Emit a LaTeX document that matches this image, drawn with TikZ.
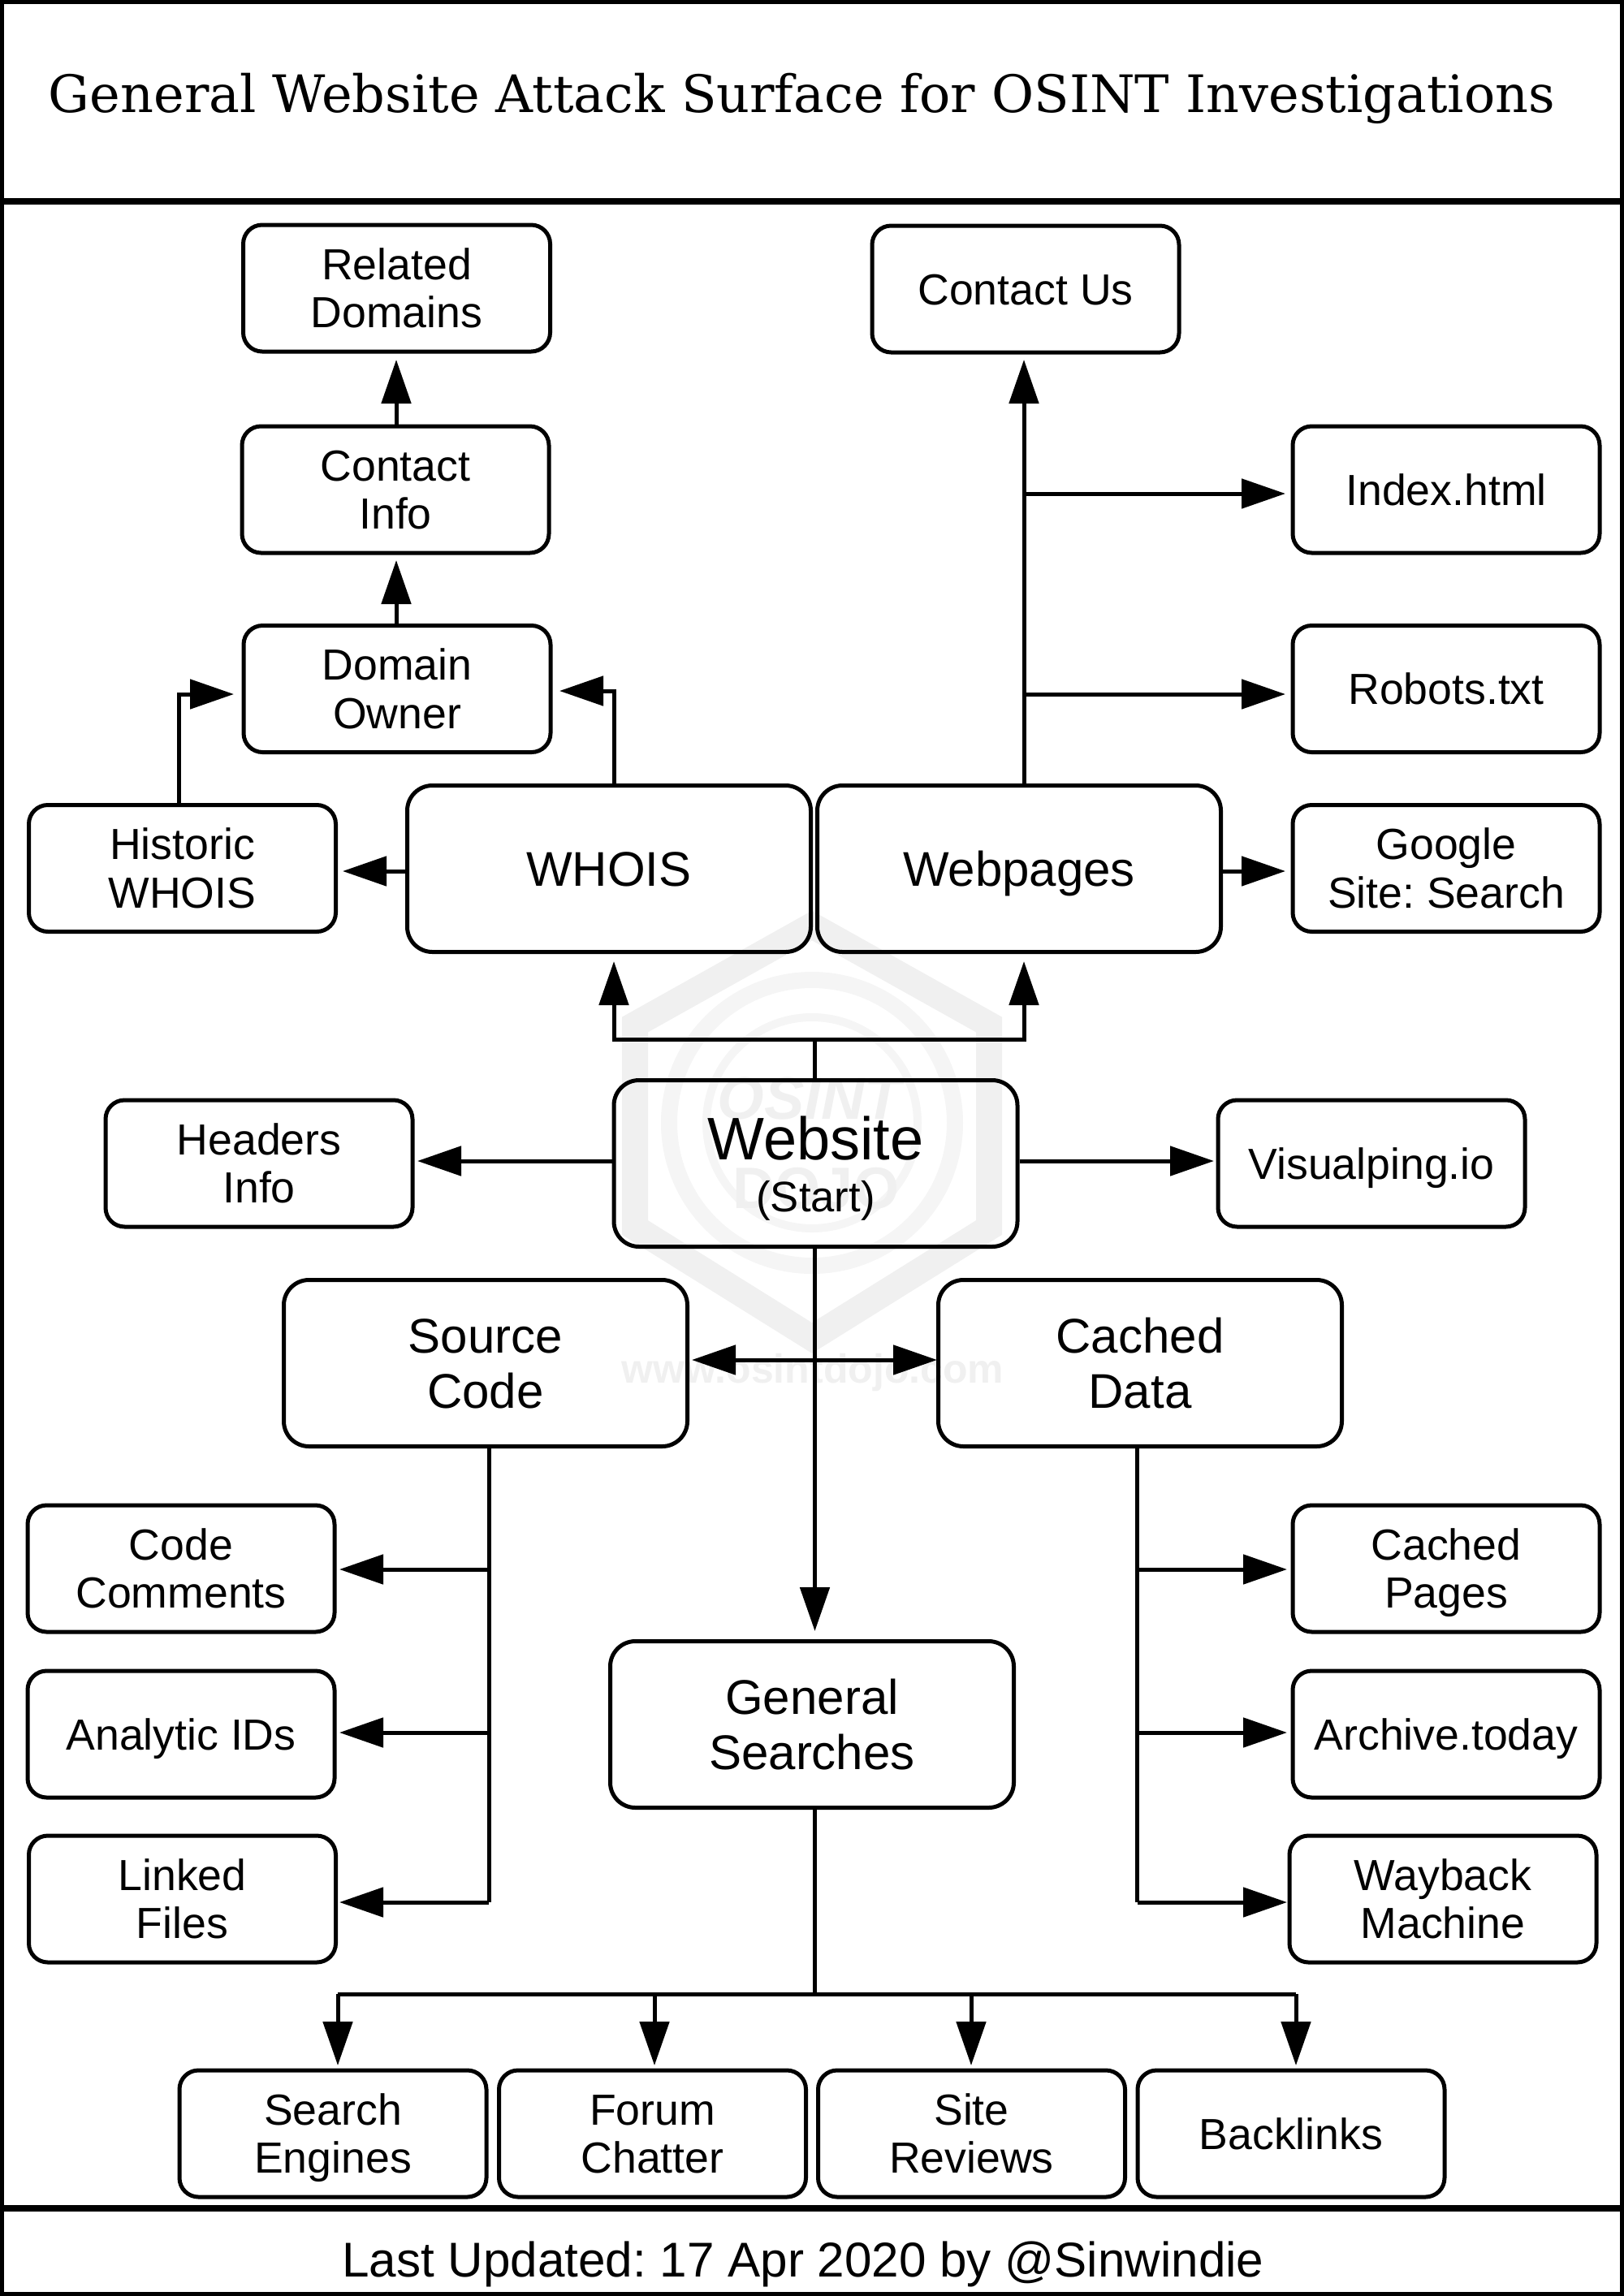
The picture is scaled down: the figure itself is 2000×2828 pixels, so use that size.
\documentclass[tikz,border=0pt]{standalone}
\usepackage{fontspec}
\setmainfont{Liberation Sans}
\newfontfamily\titlefont{DejaVu Serif}
\usetikzlibrary{arrows.meta,calc}
\frenchspacing
\definecolor{wm}{HTML}{F0F0F0}
\definecolor{wmlight}{HTML}{F5F5F5}
\newcommand{\boxstrut}{\rule[-0.02em]{0pt}{0.75em}}
\newcommand{\boxone}[1]{\boxstrut\smash{#1}}
\newcommand{\boxtwo}[2]{\boxstrut\smash{#1}\\\smash{#2}\boxstrut}
\tikzset{
  x=0.5pt,y=-0.5pt,
  box/.style={draw=black,line width=2.5pt,rounded corners=11.7pt,minimum width=189pt,minimum height=78pt,inner sep=0pt,align=center,font=\fontsize{26.8}{29.75}\selectfont},
  bigbox/.style={draw=black,line width=2.5pt,rounded corners=15.5pt,minimum width=248.5pt,minimum height=102.5pt,inner sep=0pt,align=center,font=\fontsize{30}{33.8}\selectfont},
  conn/.style={draw=black,line width=2.5pt},
  arr/.style={conn,-{Triangle[length=27pt,width=18pt]}},
  dbl/.style={conn,{Triangle[length=27pt,width=18pt]}-{Triangle[length=27pt,width=18pt]}},
  frameline/.style={draw=black,line width=4pt},
  wmtext/.style={text=wm,inner sep=0pt},
}
\begin{document}
\begin{tikzpicture}
\useasboundingbox (0,0) rectangle (2000,2828);
% watermark
\draw[draw=wm,line width=16pt,line join=miter] (1000,1140) -- (1218,1262) -- (1218,1512) -- (1000,1648) -- (782,1512) -- (782,1262) -- cycle;
\draw[draw=wmlight,line width=10pt] (1000,1383) circle[radius=176];
\draw[draw=wmlight,line width=5pt] (1000,1383) circle[radius=130];
\node[wmtext,font=\fontsize{37}{37}\selectfont\bfseries\itshape] (wmosint) at (997,1353) {OSINT};
\node[wmtext,font=\fontsize{36}{36}\selectfont\bfseries] (wmdojo) at (1005,1464) {DOJO};
\node[wmtext,font=\fontsize{25}{25}\selectfont\bfseries] (wmurl) at (1001,1691) {www.osintdojo.com};
% frames
\draw[frameline] (1,1) rectangle (1999,2827);
\draw[frameline] (0,248) -- (2000,248);
\draw[frameline] (0,2719.5) -- (2000,2719.5);
\node[font=\titlefont\fontsize{31.8}{36}\selectfont] (title) at (987.5,121) {General Website Attack Surface for OSINT Investigations};
\node[font=\fontsize{30.1}{36}\selectfont] (foot) at (989,2789) {Last Updated: 17 Apr 2020 by @Sinwindie};
% boxes
\node[box] (related) at (488.5,355) {\boxtwo{Related}{Domains}};
\node[box] (contactus) at (1263,356) {\boxone{Contact Us}};
\node[box] (cinfo) at (487,603) {\boxtwo{Contact}{Info}};
\node[box] (index) at (1781,603) {\boxone{Index.html}};
\node[box] (owner) at (489,848.5) {\boxtwo{Domain}{Owner}};
\node[box] (robots) at (1781,848.5) {\boxone{Robots.txt}};
\node[box] (historic) at (224.5,1069.5) {\boxtwo{Historic}{WHOIS}};
\node[bigbox] (whois) at (750,1070) {\boxone{WHOIS}};
\node[bigbox] (webpages) at (1255,1070) {\boxone{Webpages}};
\node[box] (google) at (1781,1069.5) {\boxtwo{Google}{Site: Search}};
\node[bigbox,font=\fontsize{37}{40}\selectfont] (website) at (1004.5,1433) {\rule{0pt}{0.89em}Website\\[-8pt]{\fontsize{26.3}{30}\selectfont (Start)}};
\node[box] (headers) at (319,1433) {\boxtwo{Headers}{Info}};
\node[box] (visual) at (1689,1433) {\boxone{Visualping.io}};
\node[bigbox] (source) at (598,1679) {\boxtwo{Source}{Code}};
\node[bigbox] (cached) at (1404,1679) {\boxtwo{Cached}{Data}};
\node[box] (comments) at (223,1932) {\boxtwo{Code}{Comments}};
\node[box] (analytic) at (223,2136) {\boxone{Analytic IDs}};
\node[box] (linked) at (224.5,2339) {\boxtwo{Linked}{Files}};
\node[box] (pages) at (1781,1932) {\boxtwo{Cached}{Pages}};
\node[box] (archive) at (1781,2136) {\boxone{Archive.today}};
\node[box] (wayback) at (1777,2339) {\boxtwo{Wayback}{Machine}};
\node[bigbox] (general) at (1000,2124) {\boxtwo{General}{Searches}};
\node[box] (engines) at (410,2628) {\boxtwo{Search}{Engines}};
\node[box] (forum) at (803.5,2628) {\boxtwo{Forum}{Chatter}};
\node[box] (site) at (1196.5,2628) {\boxtwo{Site}{Reviews}};
\node[box] (backlinks) at (1590,2628) {\boxone{Backlinks}};
% junction coordinates
\coordinate (tRel) at (488,443);
\coordinate (tOwnTop) at (488,690);
\coordinate (hCorner) at (220,855);
\coordinate (tOwnL) at (288,855);
\coordinate (wCorner) at (756,851);
\coordinate (tOwnR) at (689,851);
\coordinate (tHist) at (422,1073);
\coordinate (tCU) at (1261,443);
\coordinate (j1) at (1261,608);
\coordinate (tIdx) at (1583,608);
\coordinate (j2) at (1261,855);
\coordinate (tRob) at (1583,855);
\coordinate (tGoo) at (1583,1073);
\coordinate (sJ) at (1003.5,1280);
\coordinate (aL) at (756,1280);
\coordinate (aR) at (1261,1280);
\coordinate (tL) at (756,1184);
\coordinate (tR) at (1261,1184);
\coordinate (tHead) at (514,1430);
\coordinate (tVis) at (1495,1430);
\coordinate (dL) at (852,1675);
\coordinate (dR) at (1154,1675);
\coordinate (tGen) at (1003.5,2009);
\coordinate (s1) at (602,1933);
\coordinate (s2) at (602,2134);
\coordinate (s3) at (602,2343);
\coordinate (ts1) at (418,1933);
\coordinate (ts2) at (418,2134);
\coordinate (ts3) at (418,2343);
\coordinate (c1) at (1400.5,1933);
\coordinate (c2) at (1400.5,2134);
\coordinate (c3) at (1400.5,2343);
\coordinate (tc1) at (1585,1933);
\coordinate (tc2) at (1585,2134);
\coordinate (tc3) at (1585,2343);
\coordinate (gJ) at (1003,2456);
\coordinate (b1) at (416,2456);
\coordinate (b2) at (806,2456);
\coordinate (b3) at (1196,2456);
\coordinate (b4) at (1596,2456);
\coordinate (tb1) at (416,2544);
\coordinate (tb2) at (806,2544);
\coordinate (tb3) at (1196,2544);
\coordinate (tb4) at (1596,2544);
% connectors
\draw[arr] (cinfo.north -| tRel) -- (tRel);
\draw[arr] (owner.north -| tOwnTop) -- (tOwnTop);
\draw[arr] (historic.north -| hCorner) -- (hCorner) -- (tOwnL);
\draw[arr] (whois.north -| wCorner) -- (wCorner) -- (tOwnR);
\draw[arr] (whois.west |- tHist) -- (tHist);
\draw[arr] (webpages.north -| tCU) -- (tCU);
\draw[arr] (j1) -- (tIdx);
\draw[arr] (j2) -- (tRob);
\draw[arr] (webpages.east |- tGoo) -- (tGoo);
\draw[conn] (website.north -| sJ) -- (sJ);
\draw[arr] (sJ) -- (aL) -- (tL);
\draw[arr] (sJ) -- (aR) -- (tR);
\draw[arr] (website.west |- tHead) -- (tHead);
\draw[arr] (website.east |- tVis) -- (tVis);
\draw[dbl] (dL) -- (dR);
\draw[arr] (website.south -| tGen) -- (tGen);
\draw[conn] (source.south -| s3) -- (s3);
\draw[arr] (s1) -- (ts1);
\draw[arr] (s2) -- (ts2);
\draw[arr] (s3) -- (ts3);
\draw[conn] (cached.south -| c3) -- (c3);
\draw[arr] (c1) -- (tc1);
\draw[arr] (c2) -- (tc2);
\draw[arr] (c3) -- (tc3);
\draw[conn] (general.south -| gJ) -- (gJ);
\draw[conn] (b1) -- (b4);
\draw[arr] (b1) -- (tb1);
\draw[arr] (b2) -- (tb2);
\draw[arr] (b3) -- (tb3);
\draw[arr] (b4) -- (tb4);
\end{tikzpicture}
\end{document}
